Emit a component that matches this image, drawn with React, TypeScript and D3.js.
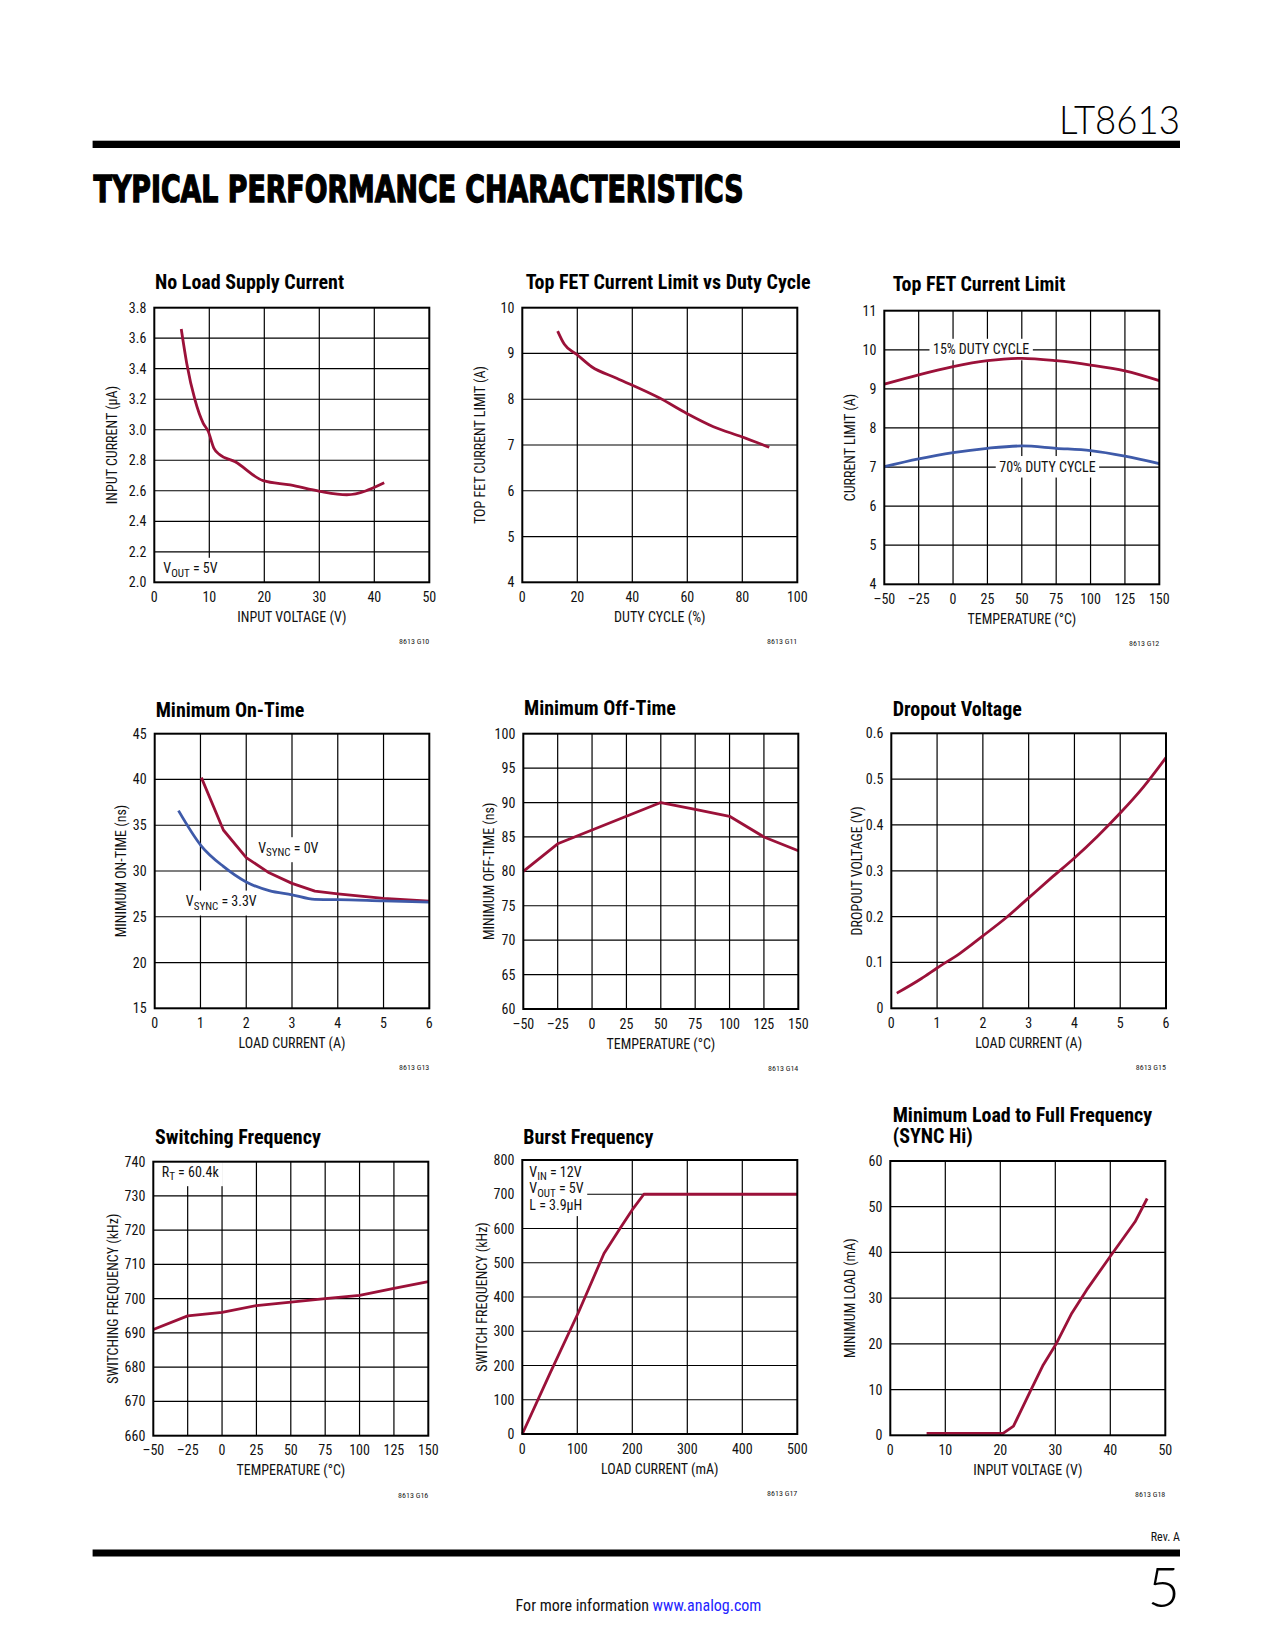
import React, { useLayoutEffect, useRef, useState } from "react";
import * as d3 from "d3";

// ---------- data ----------
const noLoadSupply: [number, number][] = [
  [4.9, 3.66], [5.9, 3.435], [7.4, 3.195], [8.9, 3.042], [9.8, 2.99], [10.85, 2.878],
  [11.8, 2.839], [14.7, 2.79], [19.8, 2.666], [24.7, 2.638], [30.1, 2.596], [35.0, 2.574], [41.8, 2.653],
];
const topFetVsDuty: [number, number][] = [
  [12.85, 9.49], [15.3, 9.2], [19.8, 8.98], [25.2, 8.71], [34.3, 8.46], [50.1, 8.02],
  [59.8, 7.69], [69.5, 7.4], [79.8, 7.18], [89.8, 6.95],
];
const topFet15: [number, number][] = [
  [-50, 9.12], [-25, 9.36], [0, 9.57], [25, 9.72], [50, 9.78], [75, 9.72], [100, 9.61], [125, 9.46], [150, 9.21],
];
const topFet70: [number, number][] = [
  [-50, 7.01], [-25, 7.21], [0, 7.37], [25, 7.48], [50, 7.54], [75, 7.48], [100, 7.42], [125, 7.28], [150, 7.09],
];
const minOnSync0: [number, number][] = [
  [1.02, 40.2], [1.5, 34.48], [2.0, 31.46], [2.5, 29.8], [3.0, 28.65], [3.5, 27.8], [4.0, 27.5], [5.0, 27.0], [6.0, 26.7],
];
const minOnSync33: [number, number][] = [
  [0.52, 36.6], [1.02, 32.73], [1.5, 30.5], [2.0, 28.8], [2.5, 27.85], [3.0, 27.4], [3.5, 26.9], [4.0, 26.87], [5.0, 26.73], [6.0, 26.6],
];
const minOffTime: [number, number][] = [
  [-50, 80], [-25, 84], [0, 86], [25, 88], [50, 90], [75, 89], [100, 88], [125, 85], [150, 83],
];
const dropout: [number, number][] = [
  [0.12, 0.033], [0.66, 0.065], [1.0, 0.088], [1.5, 0.12], [2.0, 0.158], [2.5, 0.197], [3.0, 0.241],
  [3.5, 0.285], [4.0, 0.328], [4.5, 0.375], [5.0, 0.426], [5.5, 0.482], [6.0, 0.547],
];
const switchingFreq: [number, number][] = [
  [-50, 691], [-25, 695], [0, 696], [25, 698], [50, 699], [75, 700], [100, 701], [125, 703], [150, 705],
];
const burstFreq: [number, number][] = [
  [0, 0], [50.3, 177], [101.8, 354], [148.5, 527], [177.6, 600], [201.8, 659], [221, 700], [500, 700],
];
const minLoad: [number, number][] = [
  [6.6, 0.44], [20.5, 0.44], [22.4, 2.0], [25.4, 9.5], [27.8, 15.4], [30.2, 20.1], [33.0, 26.7],
  [35.7, 31.8], [40.2, 39.5], [44.5, 46.7], [46.7, 51.8],
];

// ticks
const tempTicks = [-50, -25, 0, 25, 50, 75, 100, 125, 150];
const tempLabels = ["–50", "–25", "0", "25", "50", "75", "100", "125", "150"];
const vin50Ticks = [0, 10, 20, 30, 40, 50];
const dutyTicks = [0, 20, 40, 60, 80, 100];
const amp6Ticks = [0, 1, 2, 3, 4, 5, 6];
const currentUaTicks = [2.0, 2.2, 2.4, 2.6, 2.8, 3.0, 3.2, 3.4, 3.6, 3.8];
const topFetTicks = [4, 5, 6, 7, 8, 9, 10];
const limitTicks = [4, 5, 6, 7, 8, 9, 10, 11];
const onTimeTicks = [15, 20, 25, 30, 35, 40, 45];
const offTimeTicks = [60, 65, 70, 75, 80, 85, 90, 95, 100];
const dropoutTicks = [0, 0.1, 0.2, 0.3, 0.4, 0.5, 0.6];
const swFreqTicks = [660, 670, 680, 690, 700, 710, 720, 730, 740];
const burstYTicks = [0, 100, 200, 300, 400, 500, 600, 700, 800];
const loadMaTicks = [0, 100, 200, 300, 400, 500];
const minLoadTicks = [0, 10, 20, 30, 40, 50, 60];

// ---------- styling ----------
const RED = "#9b1139";
const BLUE = "#3e5aa9";
const NARROW = "'Liberation Sans Narrow','Arial Narrow','Roboto Condensed','DejaVu Sans Condensed',sans-serif";

type Seg = { t: string; sub?: boolean };
type Annot = {
  at: [number, number];
  off: [number, number];
  lines: Seg[][];
  lineH?: number;
  ext?: { left?: boolean; top?: boolean; bottom?: boolean };
};
type Series = { data: [number, number][]; color: string; smooth?: boolean };
type ChartDef = {
  fig: string;
  box: [number, number, number, number];
  title: string[];
  titlePos: [number, number];
  xDomain: [number, number];
  xTicks: number[];
  xLabels: string[];
  xTitle: string;
  yDomain: [number, number];
  yTicks: number[];
  yLabels: string[];
  yTitle: string;
  yTitleX: number;
  series: Series[];
  annots: Annot[];
};

const fmt1 = (v: number) => v.toFixed(1);
const str = (v: number) => String(v);

const charts: ChartDef[] = [
  {
    fig: "8613 G10", box: [154.3, 307.7, 429.3, 582.3], title: ["No Load Supply Current"], titlePos: [155, 289],
    xDomain: [0, 50], xTicks: vin50Ticks, xLabels: vin50Ticks.map(str), xTitle: "INPUT VOLTAGE (V)",
    yDomain: [2.0, 3.8], yTicks: currentUaTicks, yLabels: currentUaTicks.map(fmt1), yTitle: "INPUT CURRENT (µA)", yTitleX: 117.3,
    series: [{ data: noLoadSupply, color: RED, smooth: true }],
    annots: [{ at: [0, 2.0], off: [9, -9], lines: [[{ t: "V" }, { t: "OUT", sub: true }, { t: " = 5V" }]], ext: { left: true, bottom: true } }],
  },
  {
    fig: "8613 G11", box: [522.3, 307.7, 797.3, 582.3], title: ["Top FET Current Limit vs Duty Cycle"], titlePos: [525.7, 289.3],
    xDomain: [0, 100], xTicks: dutyTicks, xLabels: dutyTicks.map(str), xTitle: "DUTY CYCLE (%)",
    yDomain: [4, 10], yTicks: topFetTicks, yLabels: topFetTicks.map(str), yTitle: "TOP FET CURRENT LIMIT (A)", yTitleX: 485,
    series: [{ data: topFetVsDuty, color: RED, smooth: true }],
    annots: [],
  },
  {
    fig: "8613 G12", box: [884.3, 310.7, 1159.3, 584.3], title: ["Top FET Current Limit"], titlePos: [892.7, 290.7],
    xDomain: [-50, 150], xTicks: tempTicks, xLabels: tempLabels, xTitle: "TEMPERATURE (°C)",
    yDomain: [4, 11], yTicks: limitTicks, yLabels: limitTicks.map(str), yTitle: "CURRENT LIMIT (A)", yTitleX: 855,
    series: [{ data: topFet15, color: RED, smooth: true }, { data: topFet70, color: BLUE, smooth: true }],
    annots: [
      { at: [-14.6, 10], off: [0, 4.5], lines: [[{ t: "15% DUTY CYCLE" }]] },
      { at: [33.6, 7], off: [0, 4.5], lines: [[{ t: "70% DUTY CYCLE" }]] },
    ],
  },
  {
    fig: "8613 G13", box: [154.7, 733.7, 429.3, 1008.3], title: ["Minimum On-Time"], titlePos: [155.7, 716.7],
    xDomain: [0, 6], xTicks: amp6Ticks, xLabels: amp6Ticks.map(str), xTitle: "LOAD CURRENT (A)",
    yDomain: [15, 45], yTicks: onTimeTicks, yLabels: onTimeTicks.map(str), yTitle: "MINIMUM ON-TIME (ns)", yTitleX: 126,
    series: [{ data: minOnSync0, color: RED }, { data: minOnSync33, color: BLUE, smooth: true }],
    annots: [
      { at: [2.26, 32], off: [0, 0], lines: [[{ t: "V" }, { t: "SYNC", sub: true }, { t: " = 0V" }]] },
      { at: [0.68, 26.17], off: [0, 0], lines: [[{ t: "V" }, { t: "SYNC", sub: true }, { t: " = 3.3V" }]] },
    ],
  },
  {
    fig: "8613 G14", box: [523.3, 733.7, 798.3, 1009], title: ["Minimum Off-Time"], titlePos: [524, 715],
    xDomain: [-50, 150], xTicks: tempTicks, xLabels: tempLabels, xTitle: "TEMPERATURE (°C)",
    yDomain: [60, 100], yTicks: offTimeTicks, yLabels: offTimeTicks.map(str), yTitle: "MINIMUM OFF-TIME (ns)", yTitleX: 494,
    series: [{ data: minOffTime, color: RED }],
    annots: [],
  },
  {
    fig: "8613 G15", box: [891.3, 733.3, 1166, 1008.3], title: ["Dropout Voltage"], titlePos: [892.7, 716],
    xDomain: [0, 6], xTicks: amp6Ticks, xLabels: amp6Ticks.map(str), xTitle: "LOAD CURRENT (A)",
    yDomain: [0, 0.6], yTicks: dropoutTicks, yLabels: dropoutTicks.map((v) => (v === 0 ? "0" : fmt1(v))), yTitle: "DROPOUT VOLTAGE (V)", yTitleX: 861.7,
    series: [{ data: dropout, color: RED, smooth: true }],
    annots: [],
  },
  {
    fig: "8613 G16", box: [153.3, 1161.7, 428.3, 1435.7], title: ["Switching Frequency"], titlePos: [155, 1144.3],
    xDomain: [-50, 150], xTicks: tempTicks, xLabels: tempLabels, xTitle: "TEMPERATURE (°C)",
    yDomain: [660, 740], yTicks: swFreqTicks, yLabels: swFreqTicks.map(str), yTitle: "SWITCHING FREQUENCY (kHz)", yTitleX: 118.3,
    series: [{ data: switchingFreq, color: RED }],
    annots: [{ at: [-50, 740], off: [8.4, 15], lines: [[{ t: "R" }, { t: "T", sub: true }, { t: " = 60.4k" }]], ext: { left: true, top: true } }],
  },
  {
    fig: "8613 G17", box: [522.3, 1160, 797.3, 1434], title: ["Burst Frequency"], titlePos: [523.3, 1143.5],
    xDomain: [0, 500], xTicks: loadMaTicks, xLabels: loadMaTicks.map(str), xTitle: "LOAD CURRENT (mA)",
    yDomain: [0, 800], yTicks: burstYTicks, yLabels: burstYTicks.map(str), yTitle: "SWITCH FREQUENCY (kHz)", yTitleX: 487,
    series: [{ data: burstFreq, color: RED }],
    annots: [{
      at: [0, 800], off: [7, 16.5], lineH: 16.8,
      lines: [
        [{ t: "V" }, { t: "IN", sub: true }, { t: " = 12V" }],
        [{ t: "V" }, { t: "OUT", sub: true }, { t: " = 5V" }],
        [{ t: "L = 3.9µH" }],
      ],
      ext: { left: true, top: true },
    }],
  },
  {
    fig: "8613 G18", box: [890.3, 1161, 1165.3, 1435.3], title: ["Minimum Load to Full Frequency", "(SYNC Hi)"], titlePos: [892.7, 1121.7],
    xDomain: [0, 50], xTicks: vin50Ticks, xLabels: vin50Ticks.map(str), xTitle: "INPUT VOLTAGE (V)",
    yDomain: [0, 60], yTicks: minLoadTicks, yLabels: minLoadTicks.map(str), yTitle: "MINIMUM LOAD (mA)", yTitleX: 855,
    series: [{ data: minLoad, color: RED }],
    annots: [],
  },
];

function AnnotBlock({ a, x, y, plot }: { a: Annot; x: number; y: number; plot: [number, number, number, number] }) {
  const ref = useRef<SVGGElement>(null);
  const [bb, setBB] = useState<{ x: number; y: number; w: number; h: number } | null>(null);
  useLayoutEffect(() => {
    if (ref.current) {
      const b = ref.current.getBBox();
      setBB({ x: b.x, y: b.y, w: b.width, h: b.height });
    }
  }, []);
  const pad = 3.5;
  let rect: JSX.Element | null = null;
  if (bb) {
    let x0 = bb.x - pad, x1 = bb.x + bb.w + pad, y0 = bb.y - pad + 1, y1 = bb.y + bb.h + pad - 0.5;
    if (a.ext?.left) x0 = plot[0];
    if (a.ext?.top) y0 = plot[1];
    if (a.ext?.bottom) y1 = plot[3];
    rect = <rect x={x0} y={y0} width={x1 - x0} height={y1 - y0} fill="#fff" />;
  }
  const lh = a.lineH ?? 16;
  return (
    <g>
      {rect}
      <g ref={ref}>
        {a.lines.map((segs, i) => {
          let subOn = false;
          return (
            <text key={i} x={x} y={y + i * lh} fontFamily={NARROW} fontSize={14} fill="#111">
              {segs.map((s, j) => {
                let dy = 0;
                if (s.sub && !subOn) { dy = 3.5; subOn = true; }
                else if (!s.sub && subOn) { dy = -3.5; subOn = false; }
                return (
                  <tspan key={j} dy={dy} fontSize={s.sub ? 11 : 14}>{s.t}</tspan>
                );
              })}
            </text>
          );
        })}
      </g>
    </g>
  );
}

function Chart({ c }: { c: ChartDef }) {
  const [l, t, r, b] = c.box;
  const x = d3.scaleLinear().domain(c.xDomain).range([l, r]);
  const y = d3.scaleLinear().domain(c.yDomain).range([b, t]);
  const mid = (t + b) / 2;
  return (
    <g>
      {c.title.map((s, i) => (
        <text key={i} x={c.titlePos[0]} y={c.titlePos[1] + i * 21.6} fontFamily={NARROW} fontWeight="bold" fontSize={20} fill="#000">{s}</text>
      ))}
      {/* grid */}
      {c.xTicks.slice(1, -1).map((v) => (
        <line key={"gx" + v} x1={x(v)} x2={x(v)} y1={t} y2={b} stroke="#000" strokeWidth={1.2} />
      ))}
      {c.yTicks.slice(1, -1).map((v) => (
        <line key={"gy" + v} x1={l} x2={r} y1={y(v)} y2={y(v)} stroke="#000" strokeWidth={1.2} />
      ))}
      {c.annots.map((a, i) => (
        <AnnotBlock key={i} a={a} x={x(a.at[0]) + a.off[0]} y={y(a.at[1]) + a.off[1]} plot={c.box} />
      ))}
      {c.series.map((s, i) => {
        const line = d3.line<[number, number]>()
          .x((d) => x(d[0]))
          .y((d) => y(d[1]))
          .curve(s.smooth ? d3.curveMonotoneX : d3.curveLinear);
        return <path key={i} d={line(s.data) ?? ""} fill="none" stroke={s.color} strokeWidth={2.8} strokeLinejoin="round" />;
      })}
      <rect x={l} y={t} width={r - l} height={b - t} fill="none" stroke="#000" strokeWidth={2} />
      {/* tick labels */}
      {c.xTicks.map((v, i) => (
        <text key={"xl" + v} x={x(v)} y={b + 19.5} textAnchor="middle" fontFamily={NARROW} fontSize={14} fill="#111">{c.xLabels[i]}</text>
      ))}
      {c.yTicks.map((v, i) => (
        <text key={"yl" + v} x={l - 8} y={y(v) + 5} textAnchor="end" fontFamily={NARROW} fontSize={14} fill="#111">{c.yLabels[i]}</text>
      ))}
      <text x={(l + r) / 2} y={b + 39.5} textAnchor="middle" fontFamily={NARROW} fontSize={14} fill="#111">{c.xTitle}</text>
      <text transform={`translate(${c.yTitleX},${mid}) rotate(-90)`} textAnchor="middle" fontFamily={NARROW} fontSize={14} fill="#111">{c.yTitle}</text>
      <text x={r} y={b + 62} textAnchor="end" fontFamily={NARROW} fontSize={8} fill="#222">{c.fig}</text>
    </g>
  );
}

export default function App() {
  return (
    <svg width={1275} height={1650} viewBox="0 0 1275 1650" style={{ position: "absolute", left: 0, top: 0, background: "#fff" }}>
      <rect x={0} y={0} width={1275} height={1650} fill="#fff" />
      <text x={1180} y={134} textAnchor="end" fontFamily="'DejaVu Sans ExtraLight','Lato','DejaVu Sans',sans-serif" fontWeight={300} fontSize={39} textLength={121} lengthAdjust="spacingAndGlyphs" fill="#000">LT8613</text>
      <rect x={92.6} y={140.7} width={1180 - 92.6} height={7.3} fill="#000" />
      <text x={93.6} y={202} fontFamily="'DejaVu Sans Condensed','DejaVu Sans',sans-serif" fontWeight="bold" fontSize={37} textLength={650} lengthAdjust="spacingAndGlyphs" fill="#000" stroke="#000" strokeWidth={1.3}>TYPICAL PERFORMANCE CHARACTERISTICS</text>
      {charts.map((c) => <Chart key={c.fig} c={c} />)}
      <text x={1180} y={1541} textAnchor="end" fontFamily={NARROW} fontSize={12} fill="#111">Rev. A</text>
      <rect x={92.6} y={1549.5} width={1180 - 92.6} height={7} fill="#000" />
      <text x={1180} y={1607} textAnchor="end" fontFamily="'DejaVu Sans ExtraLight','Lato','DejaVu Sans',sans-serif" fontWeight={300} fontSize={56} fill="#000">5</text>
      <text x={638.5} y={1610.5} textAnchor="middle" fontFamily={NARROW} fontSize={16} fill="#111">
        For more information <tspan fill="#2424ff">www.analog.com</tspan>
      </text>
    </svg>
  );
}
